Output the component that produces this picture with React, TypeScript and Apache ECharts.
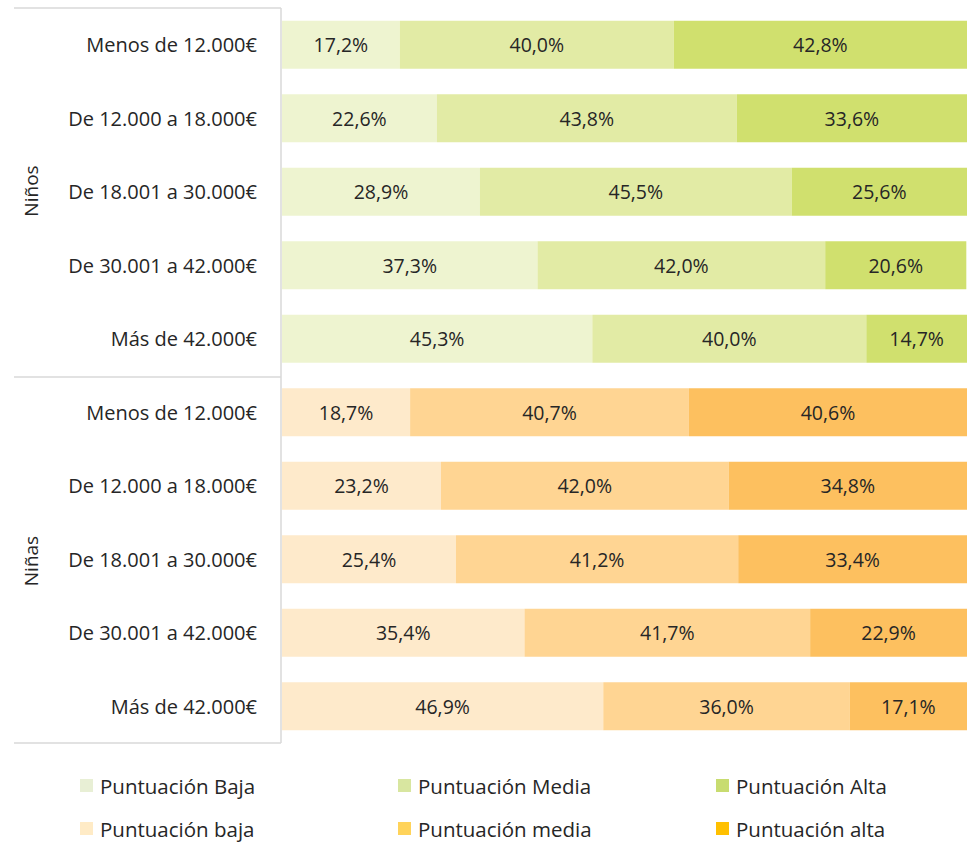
import React, { useEffect, useRef } from "react";
import * as echarts from "echarts";

const categories = [
  "Menos de 12.000€",
  "De 12.000 a 18.000€",
  "De 18.001 a 30.000€",
  "De 30.001 a 42.000€",
  "Más de 42.000€",
  "Menos de 12.000€ ",
  "De 12.000 a 18.000€ ",
  "De 18.001 a 30.000€ ",
  "De 30.001 a 42.000€ ",
  "Más de 42.000€ ",
];

const groupLabels = ["Niños", "Niñas"];

const ninosBaja = [17.2, 22.6, 28.9, 37.3, 45.3];
const ninosMedia = [40.0, 43.8, 45.5, 42.0, 40.0];
const ninosAlta = [42.8, 33.6, 25.6, 20.6, 14.7];
const ninasBaja = [18.7, 23.2, 25.4, 35.4, 46.9];
const ninasMedia = [40.7, 42.0, 41.2, 41.7, 36.0];
const ninasAlta = [40.6, 34.8, 33.4, 22.9, 17.1];

const seriesNames = [
  "Puntuación Baja",
  "Puntuación Media",
  "Puntuación Alta",
  "Puntuación baja",
  "Puntuación media",
  "Puntuación alta",
];

const barColors = ["#EEF4D0", "#E2EBA5", "#D0E06E", "#FEEACB", "#FFD593", "#FDC05F"];
const legendColors = ["#E8EFD5", "#D8E6A0", "#C8DC70", "#FFEBC6", "#FFD35A", "#FFC000"];

const FONT = "'Open Sans', Lato, sans-serif";

export default function App() {
  const ref = useRef<HTMLDivElement>(null);
  useEffect(() => {
    if (!ref.current) return;
    const chart = echarts.init(ref.current, undefined, { renderer: "svg" });
    const allData = [ninosBaja, ninosMedia, ninosAlta, ninasBaja, ninasMedia, ninasAlta];
    const series = allData.map((vals, i) => {
      const isNinos = i < 3;
      const data = isNinos
        ? [...vals, null, null, null, null, null]
        : [null, null, null, null, null, ...vals];
      return {
        name: seriesNames[i],
        type: "bar",
        stack: "total",
        barWidth: "65%",
        itemStyle: { color: legendColors[i] },
        data: data.map((v) =>
          v === null ? null : { value: v, itemStyle: { color: barColors[i] } }
        ),
        label: {
          show: true,
          position: "inside",
          color: "#262626",
          fontFamily: FONT,
          fontSize: 19.5,
          formatter: (p: any) => p.value.toFixed(1).replace(".", ",") + "%",
        },
      };
    });

    const legendPos = [
      [80, 775],
      [398, 775],
      [716, 775],
      [80, 818],
      [398, 818],
      [716, 818],
    ];
    const legends = seriesNames.map((n, i) => ({
      data: [n],
      left: legendPos[i][0],
      top: legendPos[i][1],
      icon: "rect",
      itemWidth: 13,
      itemHeight: 13,
      itemGap: 0,
      padding: 0,
      selectedMode: false,
      textStyle: { fontFamily: FONT, fontSize: 20.5, color: "#262626", padding: [0, 0, 0, 2] },
    }));

    const lineStyle = { stroke: "#D9D9D9", lineWidth: 1.5 };
    chart.setOption({
      animation: false,
      grid: { left: 282, right: 0, top: 8, bottom: 100, containLabel: false },
      xAxis: {
        type: "value",
        min: 0,
        max: 100,
        show: false,
      },
      yAxis: {
        type: "category",
        inverse: true,
        data: categories,
        axisLine: { show: false },
        axisTick: { show: false },
        axisLabel: {
          fontFamily: FONT,
          fontSize: 20,
          color: "#262626",
          margin: 25,
          formatter: (v: string) => v.trim(),
        },
      },
      legend: legends,
      series,
      graphic: [
        { type: "line", shape: { x1: 281, y1: 8, x2: 281, y2: 743 }, style: lineStyle },
        { type: "line", shape: { x1: 14, y1: 8, x2: 281, y2: 8 }, style: lineStyle },
        { type: "line", shape: { x1: 14, y1: 377, x2: 281, y2: 377 }, style: lineStyle },
        { type: "line", shape: { x1: 14, y1: 743, x2: 281, y2: 743 }, style: lineStyle },
        {
          type: "text",
          x: 31,
          y: 191,
          rotation: Math.PI / 2,
          style: {
            text: groupLabels[0],
            fontFamily: FONT,
            fontSize: 19,
            fill: "#262626",
            align: "center",
            verticalAlign: "middle",
          },
        },
        {
          type: "text",
          x: 31,
          y: 561,
          rotation: Math.PI / 2,
          style: {
            text: groupLabels[1],
            fontFamily: FONT,
            fontSize: 19,
            fill: "#262626",
            align: "center",
            verticalAlign: "middle",
          },
        },
      ],
    });
    return () => chart.dispose();
  }, []);
  return (
    <div
      ref={ref}
      style={{ position: "fixed", left: 0, top: 0, width: 967, height: 843, background: "#fff" }}
    />
  );
}
